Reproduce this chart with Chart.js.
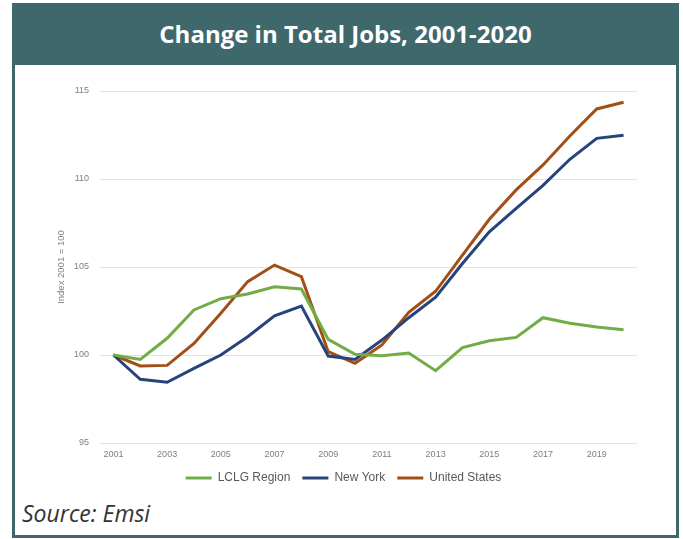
<!DOCTYPE html>
<html>
<head>
<meta charset="utf-8">
<script src="https://cdn.jsdelivr.net/npm/chart.js@4"></script>
<style>
  html, body { margin: 0; padding: 0; background: #fff; }
  body { width: 683px; height: 539px; position: relative; overflow: hidden; }
  .frame {
    position: absolute; left: 12px; top: 3px; width: 667px; height: 535px;
    box-sizing: border-box; border: 3px solid #3f686d; background: #fff;
  }
  .header {
    position: absolute; left: 12px; top: 3px; width: 667px; height: 62px;
    background: #3f686d; color: #fff; text-align: center;
    font: 700 24px "Open Sans", sans-serif; line-height: 62px;
  }
  .source {
    position: absolute; left: 22px; top: 497px;
    font: italic 23px "Open Sans", sans-serif; color: #333;
  }
  #chart { position: absolute; left: 0; top: 0; }
</style>
</head>
<body>
<div class="frame"></div>
<div class="header">Change in Total Jobs, 2001-2020</div>
<div class="source">Source: Emsi</div>
<canvas id="chart" width="683" height="539"></canvas>
<script>
const years = ["2001", "2002", "2003", "2004", "2005", "2006", "2007", "2008", "2009", "2010",
  "2011", "2012", "2013", "2014", "2015", "2016", "2017", "2018", "2019", "2020"];

const lclgRegion = [100, 99.75, 100.95, 102.56, 103.2, 103.47, 103.88, 103.75, 100.89, 100.04,
  99.96, 100.11, 99.11, 100.42, 100.81, 101.0, 102.12, 101.8, 101.59, 101.44];

const newYork = [100, 98.62, 98.45, 99.24, 100.0, 101.04, 102.23, 102.78, 99.94, 99.75,
  100.85, 102.12, 103.28, 105.2, 107.0, 108.33, 109.64, 111.12, 112.31, 112.48];

const unitedStates = [100, 99.38, 99.41, 100.66, 102.37, 104.17, 105.11, 104.45, 100.19, 99.53,
  100.57, 102.42, 103.62, 105.68, 107.71, 109.38, 110.8, 112.44, 113.98, 114.36];

const yTicks = [95, 100, 105, 110, 115];

const tickFont = { family: "Liberation Sans", size: 9 };

function series(label, data, color) {
  return {
    label: label,
    data: data,
    borderColor: color,
    backgroundColor: color,
    borderWidth: 3,
    pointRadius: 0,
    tension: 0,
    pointStyle: 'line'
  };
}

const ctx = document.getElementById("chart").getContext("2d");
new Chart(ctx, {
  type: 'line',
  data: {
    labels: years,
    datasets: [
      series('LCLG Region', lclgRegion, '#70ad47'),
      series('New York', newYork, '#27447a'),
      series('United States', unitedStates, '#a14f16')
    ]
  },
  options: {
    responsive: false,
    animation: false,
    layout: { padding: { top: 91, left: 50, right: 46, bottom: 45 } },
    plugins: {
      tooltip: { enabled: false },
      legend: {
        position: 'bottom',
        labels: {
          usePointStyle: true,
          pointStyleWidth: 26,
          padding: 12,
          color: '#595959',
          font: { family: "Liberation Sans", size: 12 }
        }
      }
    },
    scales: {
      x: {
        offset: true,
        // keep the axis box short so the legend sits close under the labels
        afterFit: function (scale) { scale.height = 17; },
        grid: { display: false, drawTicks: false },
        border: { display: false },
        ticks: {
          autoSkip: false,
          maxRotation: 0,
          padding: 6,
          color: '#7f7f7f',
          font: tickFont,
          callback: function (value, index) {
            return index % 2 === 0 ? years[index] : '';
          }
        }
      },
      y: {
        min: 95,
        max: 115,
        afterBuildTicks: function (scale) {
          scale.ticks = yTicks.map(v => ({ value: v }));
        },
        afterFit: function (scale) { scale.width = 50; },
        grid: { color: '#e3e3e3', lineWidth: 1, drawTicks: false },
        border: { display: false },
        title: {
          display: true,
          text: 'Index 2001 = 100',
          color: '#7f7f7f',
          font: { family: "Liberation Sans", size: 9.5 },
          padding: { top: 6, bottom: 0 }
        },
        ticks: {
          color: '#7f7f7f',
          font: tickFont,
          padding: 11
        }
      }
    }
  }
});
</script>
</body>
</html>
